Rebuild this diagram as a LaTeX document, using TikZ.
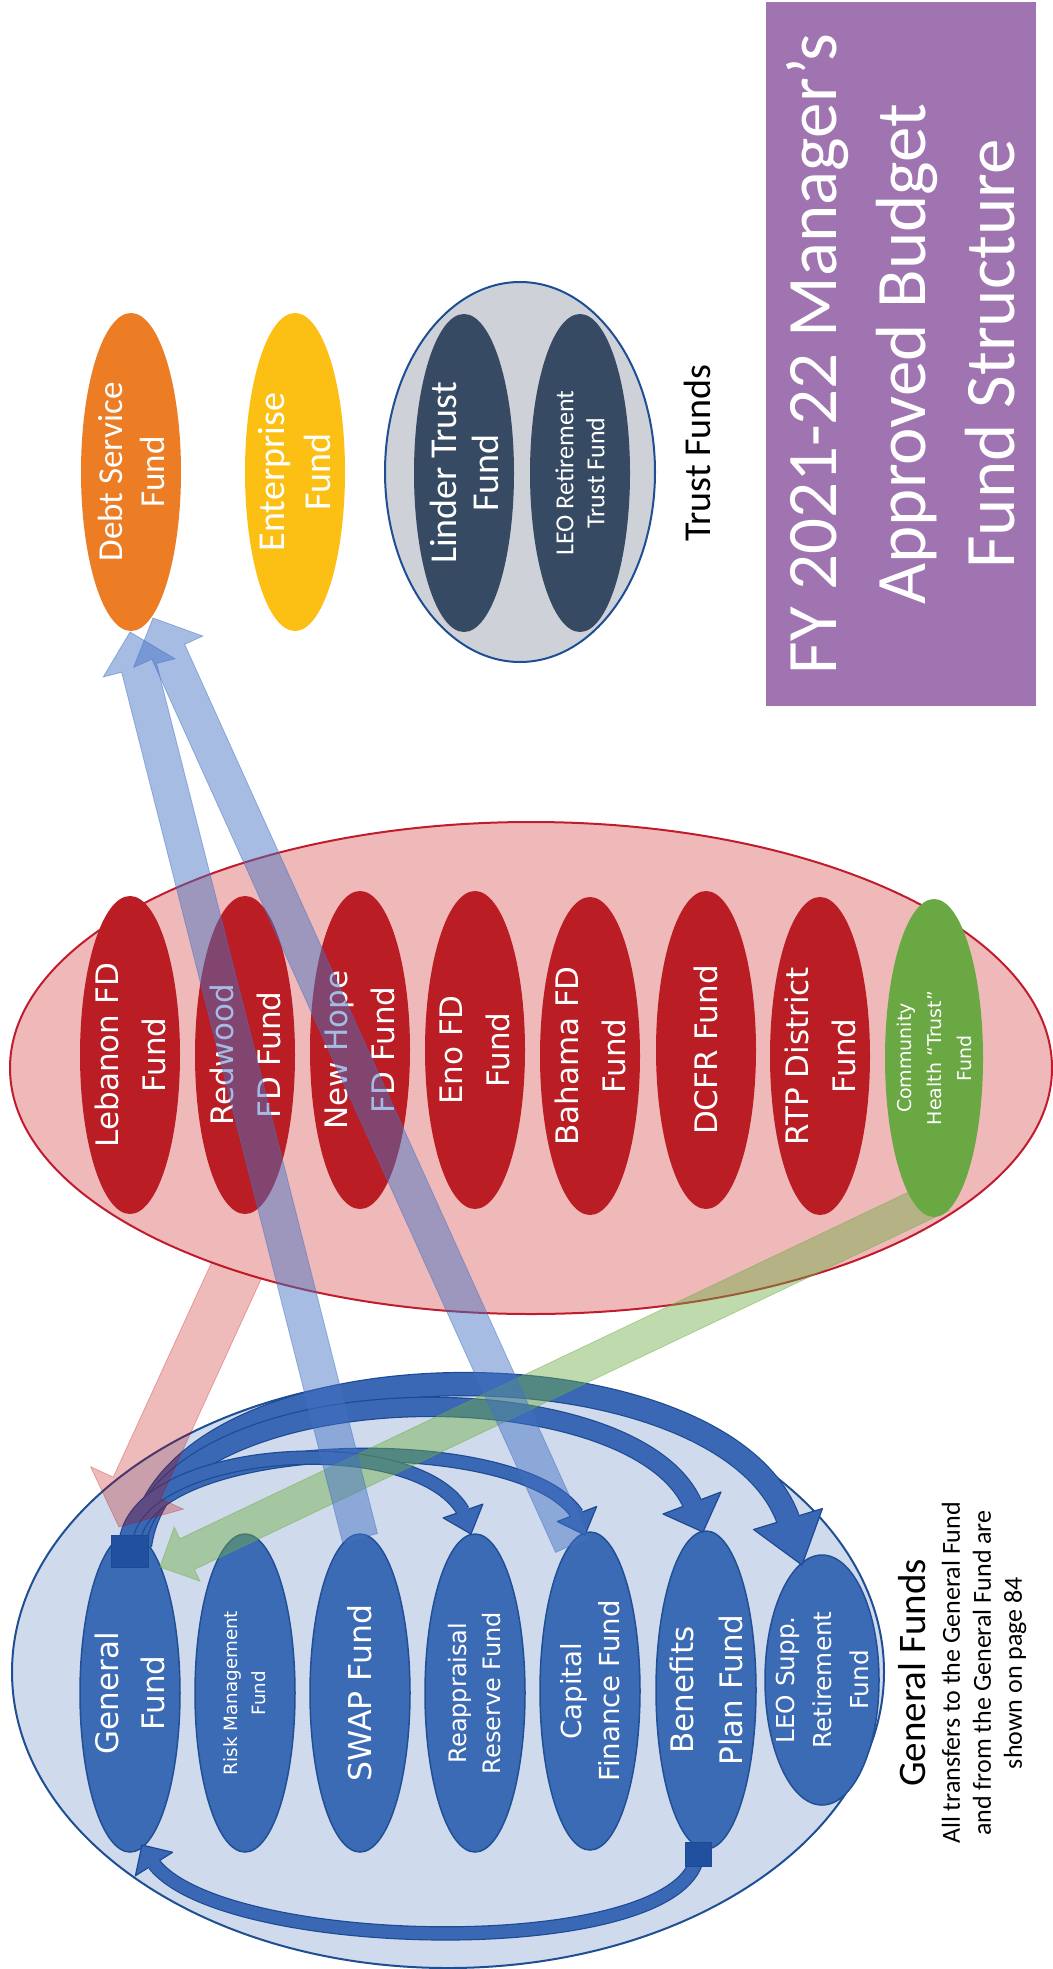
\documentclass[tikz,border=0pt]{standalone}
\usepackage{fontspec}
\newfontfamily\verd{DejaVu Sans}
\newfontfamily\calib{Carlito}
\usetikzlibrary{shapes.geometric,calc}
\definecolor{ttlpurple}{RGB}{160,115,177}
\definecolor{gfbg}{RGB}{207,219,236}
\definecolor{gfborder}{RGB}{30,78,148}
\definecolor{gfin}{RGB}{60,107,181}
\definecolor{gfinb}{RGB}{33,80,150}
\definecolor{firebg}{RGB}{239,185,185}
\definecolor{fireb}{RGB}{192,28,45}
\definecolor{firein}{RGB}{187,29,36}
\definecolor{chgreen}{RGB}{106,168,68}
\definecolor{debtor}{RGB}{237,125,36}
\definecolor{entyel}{RGB}{252,192,20}
\definecolor{trustbg}{RGB}{206,210,216}
\definecolor{trustin}{RGB}{54,74,99}
\definecolor{arrblue}{RGB}{68,114,196}
\definecolor{arrred}{RGB}{192,0,0}
\definecolor{arrgreen}{RGB}{112,173,71}
\definecolor{curvfill}{RGB}{58,104,180}
\definecolor{curvb}{RGB}{28,74,148}
\definecolor{darkrect}{RGB}{33,80,158}
\newcommand{\vf}[2]{\verd\fontsize{#1}{#2}\selectfont}
\newcommand{\cf}[2]{\calib\fontsize{#1}{#2}\selectfont}
\tikzset{
  ell/.style={ellipse, inner sep=0pt, draw=none},
  fundell/.style={ell, minimum width=100pt, minimum height=318pt},
  bluefund/.style={fundell, fill=gfin, draw=gfinb, line width=1.5pt},
  redfund/.style={fundell, fill=firein},
  vlbl/.style={rotate=90, text=white, align=center, inner sep=0pt},
  blbl/.style={rotate=90, text=black, align=center, inner sep=0pt},
  tarrblue/.style={fill=arrblue, draw=arrblue, line width=0.8pt, opacity=0.48},
  tarrred/.style={fill=arrred, draw=arrred, line width=0.8pt, opacity=0.27},
  tarrgreen/.style={fill=arrgreen, draw=arrgreen, line width=0.8pt, opacity=0.45},
}
% block arrow: style, start, tip, half shaft, half head, head length
\newcommand{\blockarrow}[6]{%
  \coordinate (bab) at ($(#3)!#6!(#2)$);
  \path[#1] ($(#2)!#4!90:(#3)$) -- ($(bab)!#4!90:(#3)$) -- ($(bab)!#5!90:(#3)$)
    -- (#3) -- ($(bab)!#5!-90:(#3)$) -- ($(bab)!#4!-90:(#3)$) -- ($(#2)!#4!-90:(#3)$) -- cycle;
}
% curved arrow: start, c1, c2, head base, tip, shaft width, head half width
\newcommand{\curvedarrow}[7]{%
  \draw[curvb, line width=#6pt+2.4pt] (#1) .. controls #2 and #3 .. (#4);
  \draw[curvfill, line width=#6pt] (#1) .. controls #2 and #3 .. (#4);
  \filldraw[fill=curvfill, draw=curvb, line width=1.2pt, line join=round]
    ($(#4)!#7pt!90:(#5)$) -- (#5) -- ($(#4)!#7pt!-90:(#5)$) -- cycle;
  \draw[curvfill, line width=#6pt] ($(#4)!4pt!#3$) -- ($(#4)!3pt!(#5)$);
}
\begin{document}
\begin{tikzpicture}[x=1pt,y=-1pt]
\useasboundingbox (0,0) rectangle (1052,1969);
% ---------- title
\node[rectangle, fill=ttlpurple, inner sep=0pt, minimum width=270pt, minimum height=703pt] (ttlbox) at (901,354) {};
\node[vlbl, font=\cf{71}{89}] (ttl) at (ttlbox.center) {FY 2021-22 Manager’s\\Approved Budget\\Fund Structure};
% ---------- top row
\node[fundell, fill=debtor] (debt) at (131,472) {};
\node[vlbl, font=\cf{35}{42}] (debtt) at (debt.center) {Debt Service\\Fund};
\node[fundell, fill=entyel] (ent) at (295,472) {};
\node[vlbl, font=\cf{38}{46}] (entt) at (ent.center) {Enterprise\\Fund};
\node[ell, fill=trustbg, draw=gfborder, line width=2pt, minimum width=270pt, minimum height=380pt] (trust) at (520,472) {};
\node[fundell, fill=trustin] (linder) at (464,473) {};
\node[vlbl, font=\cf{38}{42}] (lindert) at (linder.center) {Linder Trust\\Fund};
\node[fundell, fill=trustin] (leot) at (580,473) {};
\node[vlbl, font=\cf{26}{31}] (leott) at (leot.center) {LEO Retirement\\Trust Fund};
\node[blbl, font=\cf{38}{46}] (trustlbl) at (697,453) {Trust Funds};
% ---------- fire districts
\node[ell, fill=firebg, draw=fireb, line width=2pt, minimum width=1042pt, minimum height=492pt] (fire) at (531,1068) {};
\node[redfund] (leb) at (130,1055) {};
\node[vlbl, font=\vf{31}{47}] (lebt) at (leb.center) {Lebanon FD\\Fund};
\node[redfund] (red) at (245,1055) {};
\node[vlbl, font=\vf{31}{47}] (redt) at (red.center) {Redwood\\FD Fund};
\node[redfund] (newh) at (360,1050) {};
\node[vlbl, font=\vf{31}{47}] (newht) at (newh.center) {New Hope\\FD Fund};
\node[redfund] (eno) at (475,1050) {};
\node[vlbl, font=\vf{31}{47}] (enot) at (eno.center) {Eno FD\\Fund};
\node[redfund] (bah) at (590,1056) {};
\node[vlbl, font=\vf{31}{47}] (baht) at (bah.center) {Bahama FD\\Fund};
\node[redfund] (dcfr) at (706,1050) {};
\node[vlbl, font=\vf{31}{47}] (dcfrt) at (dcfr.center) {DCFR Fund};
\node[redfund] (rtp) at (820,1056) {};
\node[vlbl, font=\vf{31}{47}] (rtpt) at (rtp.center) {RTP District\\Fund};
% ---------- general funds
\node[ell, fill=gfbg, draw=gfborder, line width=2pt, minimum width=872pt, minimum height=592pt] (gen) at (448,1672) {};
\node[bluefund] (gf) at (130,1693) {};
\node[vlbl, font=\vf{31}{46}] (gft) at (gf.center) {General\\Fund};
\node[bluefund] (risk) at (245,1693) {};
\node[vlbl, font=\vf{18.3}{28}] (riskt) at (risk.center) {Risk Management\\Fund};
\node[bluefund] (swap) at (360,1693) {};
\node[vlbl, font=\vf{31.5}{46}] (swapt) at (swap.center) {SWAP Fund};
\node[bluefund] (reap) at (475,1693) {};
\node[vlbl, font=\vf{24}{34}] (reapt) at (reap.center) {Reappraisal\\Reserve Fund};
\node[bluefund] (cap) at (590,1691) {};
\node[vlbl, font=\vf{27.6}{38}] (capt) at (cap.center) {Capital\\Finance Fund};
\node[bluefund] (ben) at (706,1690) {};
\node[vlbl, font=\vf{31}{49}] (bent) at (ben.center) {Benefits\\Plan Fund};
\node[ell, fill=gfin, draw=gfinb, line width=1.5pt, minimum width=114pt, minimum height=250pt] (leos) at (822,1680) {};
\node[vlbl, font=\vf{24.7}{37}] (leost) at (leos.center) {LEO Supp.\\Retirement\\Fund};
\node[blbl, font=\cf{39}{46}] (genlbl) at (912,1673) {General Funds};
\node[blbl, font=\cf{26}{31}] (gennote) at (984,1673) {All transfers to the General Fund\\and from the General Fund are\\shown on page 84};
% ---------- curved transfers inside general funds
\coordinate (ras) at (126,1540); \coordinate (rab) at (463,1511); \coordinate (rat) at (471,1534);
\coordinate (cas) at (134,1540); \coordinate (cab) at (577,1514); \coordinate (cat) at (585,1535);
\coordinate (bas) at (136,1542); \coordinate (bab2) at (692,1503); \coordinate (bat) at (703,1532);
\coordinate (las) at (140,1545); \coordinate (lab) at (788,1519); \coordinate (lat) at (802,1565);
\coordinate (bos) at (698,1852); \coordinate (bob) at (154,1864); \coordinate (bot) at (142,1845);
\curvedarrow{las}{(170,1335)}{(720,1335)}{lab}{lat}{22}{36}
\curvedarrow{bas}{(175,1370)}{(630,1368)}{bab2}{bat}{18}{31}
\curvedarrow{cas}{(150,1435)}{(520,1428)}{cab}{cat}{12}{21}
\curvedarrow{ras}{(140,1445)}{(415,1428)}{rab}{rat}{12}{21}
\curvedarrow{bos}{(692,1962)}{(225,1955)}{bob}{bot}{12}{22}
\node[rectangle, fill=darkrect, draw=curvb, line width=1pt, inner sep=0pt, minimum width=37pt, minimum height=32pt] (gfbase) at (129.5,1551) {};
\node[rectangle, fill=darkrect, draw=curvb, line width=1pt, inner sep=0pt, minimum width=26pt, minimum height=24pt] (benbase) at (698,1854) {};
% ---------- green transfer
\coordinate (chs) at (942,1195);
\coordinate (gft2) at (160,1567);
\blockarrow{tarrgreen}{chs}{gft2}{17pt}{30pt}{30pt}
\node[fundell, fill=chgreen, minimum width=98pt] (ch) at (934,1058) {};
\node[vlbl, font=\vf{19}{30}] (cht) at (ch.center) {Community\\Health “Trust”\\Fund};
% ---------- blue transfers to debt service
\coordinate (swaptop) at (360,1538); \coordinate (debtbot) at (130,632);
\coordinate (captop) at (572,1545); \coordinate (debtin) at (153,618);
\blockarrow{tarrblue}{swaptop}{debtbot}{18pt}{37pt}{37pt}
\blockarrow{tarrblue}{captop}{debtin}{18pt}{38pt}{37pt}
% ---------- red transfer (fire districts to general fund)
\coordinate (fires) at (255,1230); \coordinate (gftop) at (119,1527);
\begin{scope}
  \clip (10,1068) arc[start angle=180, end angle=0, x radius=521, y radius=246] -- (1052,1969) -- (0,1969) -- (0,1068) -- cycle;
  \blockarrow{tarrred}{fires}{gftop}{26pt}{51pt}{43pt}
\end{scope}
\end{tikzpicture}
\end{document}
